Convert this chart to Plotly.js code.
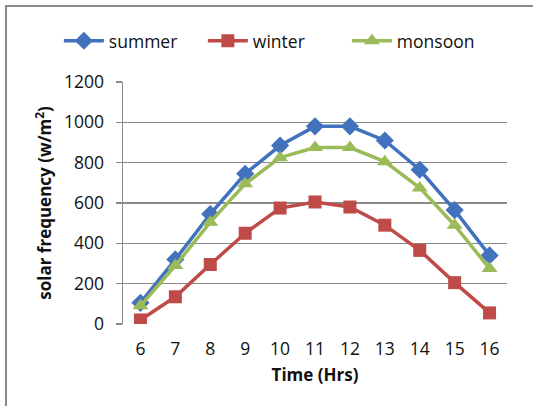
<!DOCTYPE html>
<html>
<head>
<meta charset="utf-8">
<script src="https://cdn.plot.ly/plotly-3.0.1.min.js"></script>
<style>
  html, body { margin: 0; padding: 0; background: #fff; }
  #frame { position: absolute; left: 5px; top: 5px; width: 528px; height: 401px;
           border-left: 2px solid #8a8a8a; border-top: 2px solid #8a8a8a; }
  #chart { position: absolute; left: 0; top: 0; width: 533px; height: 406px; }
</style>
</head>
<body>
<div id="frame"></div>
<div id="chart"></div>
<script>
// Hour of day
const hours = [6, 7, 8, 9, 10, 11, 12, 13, 14, 15, 16];
// Solar radiation per season (W/m²)
const summer  = [105, 320, 545, 745, 885, 980, 980, 910, 765, 565, 340];
const winter  = [20, 135, 295, 450, 575, 605, 580, 490, 365, 205, 55];
const monsoon = [90, 290, 505, 695, 825, 875, 875, 805, 675, 490, 275];

const FONT = '"Open Sans", "Noto Sans", sans-serif';

function series(name, y, color, symbol, size) {
  return {
    type: 'scatter', mode: 'lines+markers', name: name,
    x: hours, y: y,
    line: { color: color, width: 3.5 },
    marker: { color: color, symbol: symbol, size: size }
  };
}

const data = [
  series('summer', summer, '#4272BD', 'diamond', 14),
  series('winter', winter, '#BE4B48', 'square', 13),
  series('monsoon', monsoon, '#9BBB59', 'triangle-up', 14)
];

const layout = {
  width: 533, height: 406,
  margin: { l: 123, r: 26, t: 82, b: 82 },
  paper_bgcolor: 'rgba(0,0,0,0)',
  plot_bgcolor: 'rgba(0,0,0,0)',
  font: { family: FONT, size: 17.5, color: '#111' },
  showlegend: true,
  legend: {
    orientation: 'h', x: -0.167, xanchor: 'left', y: 1.17, yanchor: 'middle',
    font: { family: FONT, size: 17.5, color: '#111' },
    entrywidth: 89, entrywidthmode: 'pixels',
    itemwidth: 40, tracegroupgap: 0
  },
  xaxis: {
    range: [5.5, 16.5],
    tickmode: 'array', tickvals: hours, ticktext: hours.map(String),
    showgrid: false, zeroline: false,
    showline: false, ticks: '',
    ticklabelstandoff: 12,
    title: { text: '<b>Time (Hrs)</b>', font: { family: FONT, size: 17 }, standoff: 10 }
  },
  yaxis: {
    range: [0, 1200], dtick: 200,
    showgrid: true, gridcolor: '#8a8a8a', gridwidth: 1.4,
    zeroline: false,
    showline: true, linecolor: '#8a8a8a', linewidth: 1.4,
    ticks: 'outside', ticklen: 6, tickcolor: '#8a8a8a', tickwidth: 1.4,
    ticklabelstandoff: 8,
    title: { text: '<b>solar frequency (w/m<sup>2</sup>)</b>', font: { family: FONT, size: 17 }, standoff: 8 }
  }
};

Plotly.newPlot('chart', data, layout, { staticPlot: true, displayModeBar: false });
</script>
</body>
</html>
